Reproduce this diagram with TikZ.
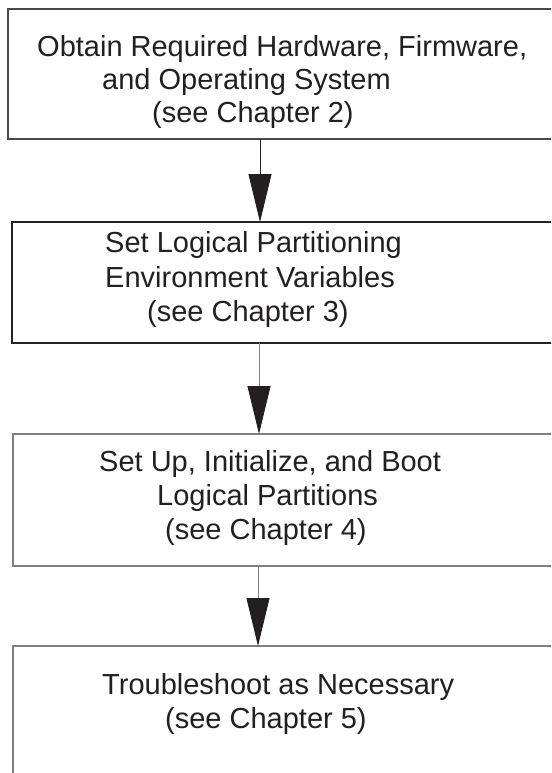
\documentclass[tikz,border=0pt]{standalone}
\usepackage{fontspec}
\setmainfont{Liberation Sans}
\usetikzlibrary{arrows.meta}
\definecolor{ink}{HTML}{231F20}
\definecolor{rule1}{HTML}{4A4A4A}
\definecolor{rule2}{HTML}{232323}
\definecolor{rule3}{HTML}{7F7F7F}
\tikzset{
  stepbox/.style={draw, rectangle, inner sep=0pt, outer sep=0pt, line width=1.3pt},
  label/.style={anchor=base west, inner sep=0pt, text=ink,
    font=\fontsize{29}{35}\selectfont},
  flow/.style={line width=0.9pt, -{Triangle[length=48pt, width=23pt]}},
}
\begin{document}
\begin{tikzpicture}[x=1pt, y=-1pt]
  \useasboundingbox (0,0) rectangle (551,773);
  \clip (0,0) rectangle (551,773);
  \fill[white] (0,0) rectangle (551,773);

  % boxes (right edges and the last bottom edge run past the page)
  \node[stepbox, draw=rule1, minimum width=592pt, minimum height=130pt] (b1) at (304,74) {};
  \node[stepbox, draw=rule2, minimum width=588pt, minimum height=121pt] (b2) at (306,282.5) {};
  \node[stepbox, draw=rule3, minimum width=587pt, minimum height=132pt] (b3) at (306.5,500) {};
  \node[stepbox, draw=rule3, minimum width=587pt, minimum height=160pt] (b4) at (306.5,726) {};

  % box texts
  \node[label] (t11) at (37,57)  {Obtain Required Hardware, Firmware,};
  \node[label] (t12) at (102,90) {and Operating System};
  \node[label] (t13) at (152,123) {(see Chapter 2)};

  \node[label] (t21) at (105,252) {Set Logical Partitioning};
  \node[label] (t22) at (105,287) {Environment Variables};
  \node[label] (t23) at (147,321) {(see Chapter 3)};

  \node[label] (t31) at (99,471)  {Set Up, Initialize, and Boot};
  \node[label] (t32) at (157,505) {Logical Partitions};
  \node[label] (t33) at (165,539) {(see Chapter 4)};

  \node[label] (t41) at (102,694) {Troubleshoot as Necessary};
  \node[label] (t42) at (165,728) {(see Chapter 5)};

  % connectors
  \coordinate (ax1) at (260,0);
  \coordinate (ax2) at (259,0);
  \coordinate (ax3) at (258,0);
  \draw[flow, draw=ink, fill=ink] (b1.south -| ax1) -- (b2.north -| ax1);
  \draw[flow, draw=rule3, -{Triangle[length=48pt, width=23pt, fill=ink, color=ink]}] (b2.south -| ax2) -- (b3.north -| ax2);
  \draw[flow, draw=rule3, -{Triangle[length=48pt, width=23pt, fill=ink, color=ink]}] (b3.south -| ax3) -- (b4.north -| ax3);
\end{tikzpicture}
\end{document}
